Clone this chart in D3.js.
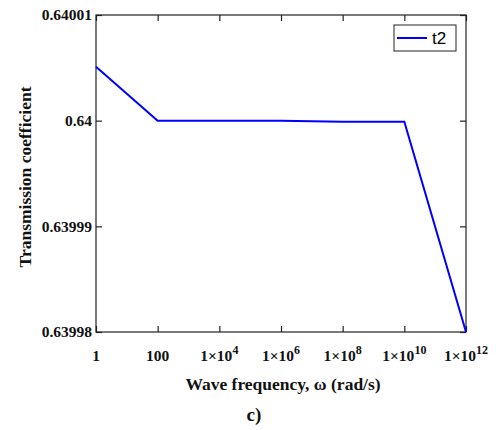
<!DOCTYPE html>
<html>
<head>
<meta charset="utf-8">
<script src="https://cdn.jsdelivr.net/npm/d3@7"></script>
<style>
  body { margin: 0; background: #fff; }
  svg text { font-family: "Liberation Serif", "Times New Roman", serif; font-weight: bold; }
</style>
</head>
<body>
<div id="chart"></div>
<script>
// data
const freq = [1, 100, 1e4, 1e6, 1e8, 1e10, 1e12];
const t2 = [0.6400051, 0.64, 0.64, 0.64, 0.6399999, 0.6399999, 0.63998];
const xTickExp = [0, 2, 4, 6, 8, 10, 12];
const yTicks = [0.63998, 0.63999, 0.64, 0.64001];
const yTickLabels = ['0.63998', '0.63999', '0.64', '0.64001'];
const seriesName = 't2';

const width = 496;
const height = 430;
const margin = {top: 15, right: 30, bottom: 98, left: 96};

const svg = d3.select('#chart')
    .append('svg')
    .attr('width', width)
    .attr('height', height);

const x = d3.scaleLog()
    .domain([1, 1e12])
    .range([margin.left, width - margin.right]);

const y = d3.scaleLinear()
    .domain([0.63998, 0.64001])
    .range([height - margin.bottom, margin.top]);

const plotW = width - margin.left - margin.right;
const plotH = height - margin.top - margin.bottom;

// frame
svg.append('rect')
    .attr('x', margin.left)
    .attr('y', margin.top)
    .attr('width', plotW)
    .attr('height', plotH)
    .attr('fill', 'none')
    .attr('stroke', '#222')
    .attr('stroke-width', 1.2);

const tickVals = xTickExp.map(e => Math.pow(10, e));

// ticks on all four sides, pointing inward
const xAxis = svg.append('g')
    .attr('transform', 'translate(0,' + (height - margin.bottom) + ')')
    .call(d3.axisBottom(x).tickValues(tickVals).tickSize(-6).tickFormat(''));
const xAxisTop = svg.append('g')
    .attr('transform', 'translate(0,' + margin.top + ')')
    .call(d3.axisTop(x).tickValues(tickVals).tickSize(-6).tickFormat(''));
const yAxis = svg.append('g')
    .attr('transform', 'translate(' + margin.left + ',0)')
    .call(d3.axisLeft(y).tickValues(yTicks).tickSize(-6).tickFormat(''));
const yAxisRight = svg.append('g')
    .attr('transform', 'translate(' + (width - margin.right) + ',0)')
    .call(d3.axisRight(y).tickValues(yTicks).tickSize(-6).tickFormat(''));

[xAxis, xAxisTop, yAxis, yAxisRight].forEach(g => {
  g.select('.domain').remove();
  g.selectAll('line').attr('stroke', '#222').attr('stroke-width', 1.2);
});

// x tick labels
xTickExp.forEach(e => {
  const t = svg.append('text')
      .attr('x', x(Math.pow(10, e)))
      .attr('y', height - margin.bottom + 29)
      .attr('text-anchor', 'middle')
      .attr('font-size', 15.5)
      .attr('fill', '#111');
  if (e === 0) {
    t.text('1');
  } else if (e === 2) {
    t.text('100');
  } else {
    t.append('tspan').text('1\u00d710');
    t.append('tspan')
        .attr('dy', -7)
        .attr('font-size', 12)
        .text(e);
  }
});

// y tick labels
yTicks.forEach((v, i) => {
  svg.append('text')
      .attr('x', margin.left - 4)
      .attr('y', y(v))
      .attr('dy', '0.35em')
      .attr('text-anchor', 'end')
      .attr('font-size', 15.5)
      .attr('fill', '#111')
      .text(yTickLabels[i]);
});

// line
const line = d3.line()
    .x((d, i) => x(freq[i]))
    .y(d => y(d));

svg.append('path')
    .datum(t2)
    .attr('fill', 'none')
    .attr('stroke', '#0000ff')
    .attr('stroke-width', 2)
    .attr('d', line);

// legend
const lg = svg.append('g').attr('transform', 'translate(394,25)');
lg.append('rect')
    .attr('width', 62)
    .attr('height', 26)
    .attr('fill', '#fff')
    .attr('stroke', '#222')
    .attr('stroke-width', 1);
lg.append('line')
    .attr('x1', 3).attr('x2', 33)
    .attr('y1', 13).attr('y2', 13)
    .attr('stroke', '#0000ff')
    .attr('stroke-width', 2);
lg.append('text')
    .attr('x', 38)
    .attr('y', 13)
    .attr('dy', '0.35em')
    .attr('font-size', 17)
    .style('font-family', '"Liberation Sans", Arial, sans-serif')
    .style('font-weight', 'normal')
    .text(seriesName);

// axis titles
svg.append('text')
    .attr('x', 283)
    .attr('y', 390)
    .attr('text-anchor', 'middle')
    .attr('font-size', 17.5)
    .attr('fill', '#111')
    .text('Wave frequency, \u03c9 (rad/s)');

svg.append('text')
    .attr('transform', 'translate(31,177) rotate(-90)')
    .attr('text-anchor', 'middle')
    .attr('font-size', 17.5)
    .attr('fill', '#111')
    .text('Transmission coefficient');

svg.append('text')
    .attr('x', 254)
    .attr('y', 421)
    .attr('text-anchor', 'middle')
    .attr('font-size', 19)
    .attr('fill', '#111')
    .text('c)');
</script>
</body>
</html>
